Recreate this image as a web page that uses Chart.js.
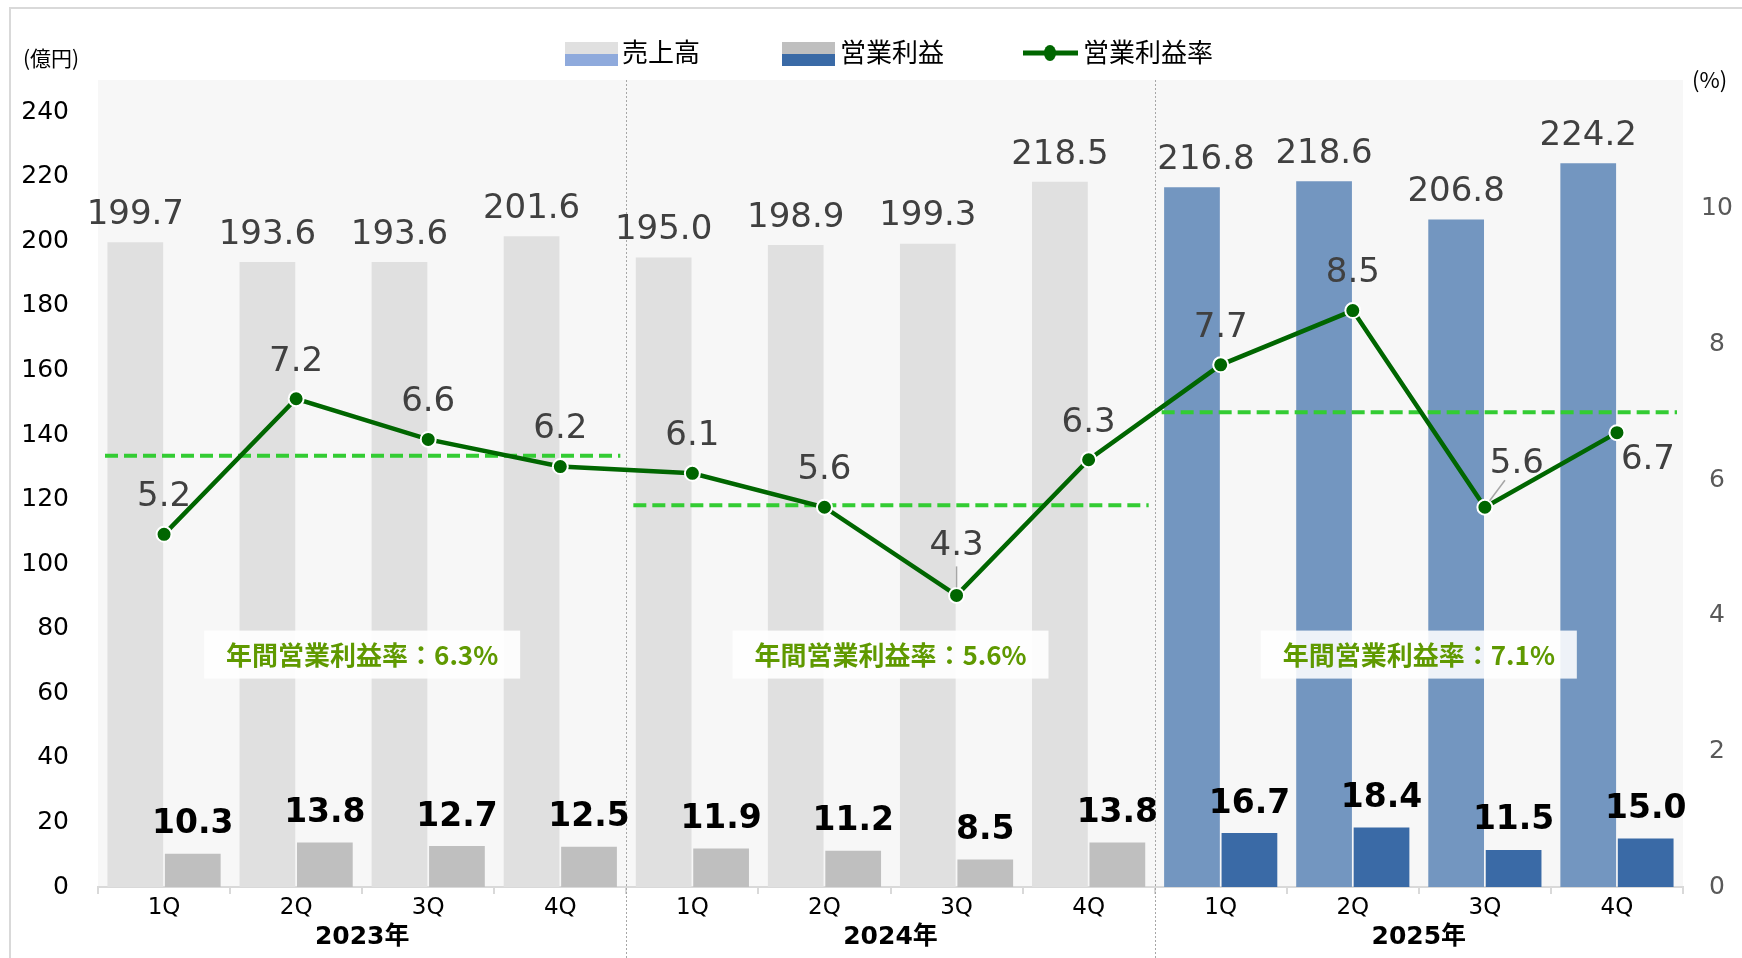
<!DOCTYPE html>
<html lang="ja">
<head>
<meta charset="utf-8">
<script src="https://cdn.jsdelivr.net/npm/chart.js@4.4.1/dist/chart.umd.min.js"></script>
<style>
    html, body { margin: 0; padding: 0; background: #fff; }
    body { width: 1742px; height: 958px; overflow: hidden; position: relative; }
    #frame { position: absolute; left: 9px; top: 7px; width: 1780px; height: 990px; border: 2px solid #d9d9d9; box-sizing: border-box; }
    #wrap { position: absolute; left: 0; top: 0; width: 1742px; height: 958px; }
</style>
</head>
<body>
<div id="frame"></div>
<div id="wrap"><canvas id="chart"></canvas></div>
<script>
// --- data ---
const quarters = ['1Q', '2Q', '3Q', '4Q', '1Q', '2Q', '3Q', '4Q', '1Q', '2Q', '3Q', '4Q'];
const years = ['2023年', '2024年', '2025年'];
const sales = [199.7, 193.6, 193.6, 201.6, 195.0, 198.9, 199.3, 218.5, 216.8, 218.6, 206.8, 224.2];
const opProfit = [10.3, 13.8, 12.7, 12.5, 11.9, 11.2, 8.5, 13.8, 16.7, 18.4, 11.5, 15.0];
const opMargin = [5.2, 7.2, 6.6, 6.2, 6.1, 5.6, 4.3, 6.3, 7.7, 8.5, 5.6, 6.7];
const annualMargin = [6.36, 5.63, 7.0];
const annualMarginText = ['6.3', '5.6', '7.1'];
const leftTicks = [0, 20, 40, 60, 80, 100, 120, 140, 160, 180, 200, 220, 240];
const rightTicks = [0, 2, 4, 6, 8, 10];

// wide latin digits (Meiryo-like) with CJK fallback
const chartFont = "'DejaVu Sans', 'Noto Sans CJK JP', sans-serif";
const cjkFont = "'Noto Sans CJK JP', 'DejaVu Sans', sans-serif";
Chart.defaults.font.family = chartFont;

// current year (2025) is drawn in blue
const yearOf = i => Math.floor(i / 4);
const salesColors = sales.map((v, i) => yearOf(i) === 2 ? '#7396c0' : '#e0e0e0');
const profitColors = opProfit.map((v, i) => yearOf(i) === 2 ? '#3a6aa6' : '#bfbfbf');

// label tweaks for crowded labels
const salesLabelShift = { 8: 14 };
// [dx, dy, leader line]
const marginLabelAdjust = {
    6: [0, -49, true],
    10: [32, -43, true],
    11: [31, 28, false]
};

const groupBounds = (chart, g) => {
    const x = chart.scales.x;
    const half = (x.getPixelForValue(1) - x.getPixelForValue(0)) / 2;
    return [x.getPixelForValue(g * 4) - half, x.getPixelForValue(g * 4 + 3) + half];
};

const plotBackground = {
    id: 'plotBackground',
    beforeDraw(chart) {
        const { ctx, chartArea: a } = chart;
        ctx.save();
        ctx.fillStyle = '#f7f7f7';
        ctx.fillRect(a.left, a.top, a.right - a.left, a.bottom - a.top);
        ctx.restore();
    },
    beforeDatasetsDraw(chart) {
        // dotted year separators
        const { ctx, chartArea: a } = chart;
        ctx.save();
        ctx.strokeStyle = '#a6a6a6';
        ctx.lineWidth = 1;
        ctx.setLineDash([2, 2]);
        for (let g = 1; g < years.length; g++) {
            const xPos = Math.round(groupBounds(chart, g)[0]) + 0.5;
            ctx.beginPath();
            ctx.moveTo(xPos, a.top);
            ctx.lineTo(xPos, chart.height);
            ctx.stroke();
        }
        ctx.restore();
    }
};

const annualLines = {
    id: 'annualLines',
    beforeDatasetDraw(chart, args) {
        if (args.index !== 2) return;
        const { ctx } = chart;
        const yR = chart.scales.yR;
        ctx.save();
        ctx.strokeStyle = '#33cc33';
        ctx.lineWidth = 4;
        ctx.setLineDash([13, 6]);
        annualMargin.forEach((v, g) => {
            const [l, r] = groupBounds(chart, g);
            const y = yR.getPixelForValue(v);
            ctx.beginPath();
            ctx.moveTo(l + 7, y);
            ctx.lineTo(r - 6, y);
            ctx.stroke();
        });
        ctx.restore();
    }
};

const valueLabels = {
    id: 'valueLabels',
    afterDatasetsDraw(chart) {
        const { ctx } = chart;
        ctx.save();
        ctx.textAlign = 'center';
        ctx.textBaseline = 'middle';

        // annual margin boxes
        const yL = chart.scales.y;
        annualMarginText.forEach((t, g) => {
            const [l, r] = groupBounds(chart, g);
            const cx = (l + r) / 2;
            const cy = yL.getPixelForValue(72);
            ctx.fillStyle = 'rgba(255,255,255,0.88)';
            ctx.fillRect(cx - 158, cy - 24, 316, 48);
            ctx.fillStyle = '#5f9900';
            ctx.font = `bold 26px ${cjkFont}`;
            ctx.fillText(`年間営業利益率：${t}%`, cx, cy + 1);
        });

        ctx.font = `34px ${chartFont}`;
        ctx.fillStyle = '#404040';
        chart.getDatasetMeta(0).data.forEach((bar, i) => {
            ctx.fillText(sales[i].toFixed(1), bar.x + (salesLabelShift[i] || 0), bar.y - 27);
        });

        ctx.font = `bold 33px ${chartFont}`;
        ctx.fillStyle = '#000';
        chart.getDatasetMeta(1).data.forEach((bar, i) => {
            ctx.fillText(opProfit[i].toFixed(1), bar.x, bar.y - 29);
        });

        ctx.font = `34px ${chartFont}`;
        chart.getDatasetMeta(2).data.forEach((pt, i) => {
            const adj = marginLabelAdjust[i] || [0, -37, false];
            const lx = pt.x + adj[0];
            const ly = pt.y + adj[1];
            if (adj[2]) {
                ctx.strokeStyle = '#a6a6a6';
                ctx.lineWidth = 1.5;
                ctx.beginPath();
                const dx = adj[0], dy = adj[1];
                const len = Math.hypot(dx, dy);
                ctx.moveTo(pt.x + dx / len * 8, pt.y + dy / len * 8);
                ctx.lineTo(pt.x + dx / len * (len - 20), pt.y + dy / len * (len - 20));
                ctx.stroke();
            }
            ctx.fillStyle = '#404040';
            ctx.fillText(opMargin[i].toFixed(1), lx, ly);
        });
        ctx.restore();
    }
};

const chrome = {
    id: 'chrome',
    afterDraw(chart) {
        const { ctx, chartArea: a } = chart;
        ctx.save();
        ctx.textBaseline = 'middle';

        // year labels under the quarters
        ctx.textAlign = 'center';
        ctx.fillStyle = '#000';
        ctx.font = `bold 25px ${chartFont}`;
        years.forEach((y, g) => {
            const [l, r] = groupBounds(chart, g);
            ctx.fillText(y, (l + r) / 2, a.bottom + 50);
        });

        // units
        ctx.font = `21px ${cjkFont}`;
        ctx.textAlign = 'left';
        ctx.fillText('(億円)', 23, 58);
        ctx.font = `22px ${cjkFont}`;
        ctx.fillText('(%)', 1692, 80);

        // legend
        ctx.font = `26px ${cjkFont}`;
        const swatch = (x, top, bottom) => {
            ctx.fillStyle = top;
            ctx.fillRect(x, 42, 53, 12);
            ctx.fillStyle = bottom;
            ctx.fillRect(x, 54, 53, 12);
        };
        swatch(565, '#e0e0e0', '#8faadc');
        ctx.fillStyle = '#000';
        ctx.fillText('売上高', 622, 52);
        swatch(782, '#bfbfbf', '#3a6aa6');
        ctx.fillStyle = '#000';
        ctx.fillText('営業利益', 840, 52);
        ctx.strokeStyle = '#006600';
        ctx.lineWidth = 5;
        ctx.beginPath();
        ctx.moveTo(1023, 53);
        ctx.lineTo(1078, 53);
        ctx.stroke();
        ctx.fillStyle = '#006600';
        ctx.beginPath();
        ctx.ellipse(1050, 53, 6, 8, 0, 0, Math.PI * 2);
        ctx.fill();
        ctx.fillStyle = '#000';
        ctx.fillText('営業利益率', 1083, 52);
        ctx.restore();
    }
};

new Chart(document.getElementById('chart'), {
    type: 'bar',
    data: {
        labels: quarters,
        datasets: [
            {
                label: '売上高',
                data: sales,
                backgroundColor: salesColors,
                yAxisID: 'y',
                order: 1,
                categoryPercentage: 0.87,
                barPercentage: 0.97
            },
            {
                label: '営業利益',
                data: opProfit,
                backgroundColor: profitColors,
                yAxisID: 'y',
                order: 2,
                categoryPercentage: 0.87,
                barPercentage: 0.97
            },
            {
                type: 'line',
                label: '営業利益率',
                data: opMargin,
                yAxisID: 'yR',
                order: 0,
                borderColor: '#006600',
                borderWidth: 4.5,
                pointRadius: 7.5,
                pointBackgroundColor: '#006600',
                pointBorderColor: '#fff',
                pointBorderWidth: 2,
                tension: 0
            }
        ]
    },
    options: {
        responsive: true,
        maintainAspectRatio: false,
        animation: false,
        devicePixelRatio: 1,
        layout: { padding: { top: 80, left: 0, right: 0, bottom: 0 } },
        plugins: {
            legend: { display: false },
            tooltip: { enabled: false }
        },
        scales: {
            x: {
                offset: true,
                grid: {
                    display: true,
                    offset: true,
                    drawOnChartArea: false,
                    drawTicks: true,
                    tickLength: 7,
                    color: '#d9d9d9',
                    lineWidth: 2
                },
                border: { display: true, color: '#d9d9d9', width: 2 },
                ticks: {
                    color: '#000',
                    font: { size: 23 },
                    padding: 0,
                    autoSkip: false,
                    maxRotation: 0
                },
                afterFit: s => { s.height = 71; }
            },
            y: {
                position: 'left',
                min: 0,
                max: 250,
                grid: { display: false },
                border: { display: false },
                ticks: {
                    color: '#000',
                    font: { size: 25 },
                    padding: 21
                },
                afterBuildTicks: s => { s.ticks = leftTicks.map(v => ({ value: v })); },
                afterFit: s => { s.width = 98; }
            },
            yR: {
                position: 'right',
                min: 0,
                max: 11.9,
                grid: { display: false },
                border: { display: false },
                ticks: {
                    color: '#595959',
                    font: { size: 25 },
                    padding: 10,
                    crossAlign: 'center'
                },
                afterBuildTicks: s => { s.ticks = rightTicks.map(v => ({ value: v })); },
                afterFit: s => { s.width = 59; }
            }
        }
    },
    plugins: [plotBackground, annualLines, valueLabels, chrome]
});
</script>
</body>
</html>
